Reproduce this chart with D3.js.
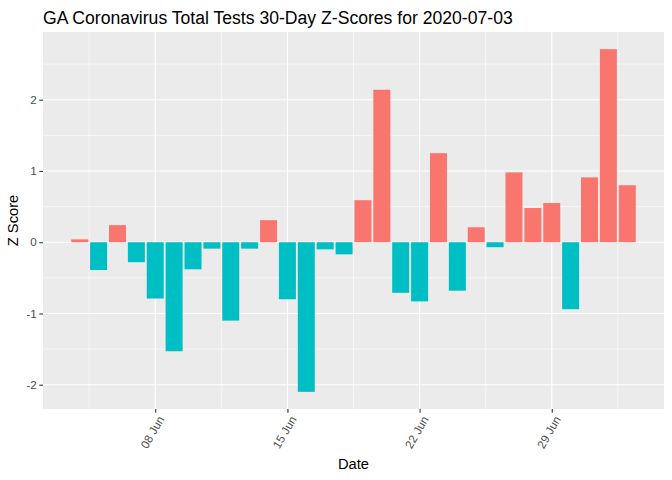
<!DOCTYPE html>
<html>
<head>
<meta charset="utf-8">
<script src="https://cdn.jsdelivr.net/npm/d3@7"></script>
<style>
  body { margin: 0; background: #fff; }
  text { font-family: "Liberation Sans", Arial, sans-serif; }
</style>
</head>
<body>
<svg id="chart" width="672" height="480"></svg>
<script>
const dates = ['2020-06-04', '2020-06-05', '2020-06-06', '2020-06-07', '2020-06-08', '2020-06-09',
    '2020-06-10', '2020-06-11', '2020-06-12', '2020-06-13', '2020-06-14', '2020-06-15',
    '2020-06-16', '2020-06-17', '2020-06-18', '2020-06-19', '2020-06-20', '2020-06-21',
    '2020-06-22', '2020-06-23', '2020-06-24', '2020-06-25', '2020-06-26', '2020-06-27',
    '2020-06-28', '2020-06-29', '2020-06-30', '2020-07-01', '2020-07-02', '2020-07-03'];
const zscores = [0.04, -0.39, 0.24, -0.28, -0.79, -1.53,
    -0.38, -0.09, -1.10, -0.09, 0.31, -0.80,
    -2.10, -0.10, -0.17, 0.59, 2.14, -0.71,
    -0.83, 1.25, -0.68, 0.21, -0.07, 0.98,
    0.48, 0.55, -0.94, 0.91, 2.71, 0.80];
const xTicks = ['2020-06-08', '2020-06-15', '2020-06-22', '2020-06-29'];
const yTicks = [-2, -1, 0, 1, 2];
const yMinor = [-1.5, -0.5, 0.5, 1.5, 2.5];

const margin = {left: 43, right: 8, top: 32, bottom: 71};
const width = 672, height = 480;
const day = 24 * 3600 * 1000;
const parse = d3.utcParse('%Y-%m-%d');

const data = dates.map((d, i) => ({date: parse(d), z: zscores[i]}));

// ggplot style limits: bar extent + 5% expansion
const lo = +data[0].date - 0.45 * day, hi = +data[data.length - 1].date + 0.45 * day;
const xr = hi - lo;
const x = d3.scaleUtc()
    .domain([new Date(lo - 0.05 * xr), new Date(hi + 0.05 * xr)])
    .range([margin.left, width - margin.right]);

const zmin = d3.min(zscores), zmax = d3.max(zscores), yr = zmax - zmin;
const y = d3.scaleLinear()
    .domain([zmin - 0.05 * yr, zmax + 0.05 * yr])
    .range([height - margin.bottom, margin.top]);

const svg = d3.select('#chart');

svg.append('rect')
    .attr('x', margin.left).attr('y', margin.top)
    .attr('width', width - margin.left - margin.right)
    .attr('height', height - margin.top - margin.bottom)
    .attr('fill', '#EBEBEB');

const grid = svg.append('g');
const xMinor = xTicks.map(t => new Date(+parse(t) - 3.5 * day)).concat([new Date(+parse(xTicks[3]) + 3.5 * day)]);

grid.selectAll('.ymin').data(yMinor).join('line')
    .attr('x1', margin.left).attr('x2', width - margin.right)
    .attr('y1', d => y(d)).attr('y2', d => y(d))
    .attr('stroke', 'white').attr('stroke-width', 0.55);
grid.selectAll('.xmin').data(xMinor).join('line')
    .attr('y1', margin.top).attr('y2', height - margin.bottom)
    .attr('x1', d => x(d)).attr('x2', d => x(d))
    .attr('stroke', 'white').attr('stroke-width', 0.55);
grid.selectAll('.ymaj').data(yTicks).join('line')
    .attr('x1', margin.left).attr('x2', width - margin.right)
    .attr('y1', d => y(d)).attr('y2', d => y(d))
    .attr('stroke', 'white').attr('stroke-width', 1.1);
grid.selectAll('.xmaj').data(xTicks.map(parse)).join('line')
    .attr('y1', margin.top).attr('y2', height - margin.bottom)
    .attr('x1', d => x(d)).attr('x2', d => x(d))
    .attr('stroke', 'white').attr('stroke-width', 1.1);

svg.append('g').selectAll('rect').data(data).join('rect')
    .attr('x', d => x(new Date(+d.date - 0.45 * day)))
    .attr('width', d => x(new Date(+d.date + 0.45 * day)) - x(new Date(+d.date - 0.45 * day)))
    .attr('y', d => y(Math.max(0, d.z)))
    .attr('height', d => Math.abs(y(d.z) - y(0)))
    .attr('fill', d => d.z > 0 ? '#F8766D' : '#00BFC4');

// axes
const xAxis = svg.append('g')
    .attr('transform', `translate(0, ${height - margin.bottom})`)
    .call(d3.axisBottom(x).tickValues(xTicks.map(parse)).tickFormat(d3.utcFormat('%d %b')).tickSize(3.7).tickPadding(3));
xAxis.select('.domain').remove();
xAxis.selectAll('line').attr('stroke', '#333333').attr('stroke-width', 1.1);
xAxis.selectAll('text')
    .attr('fill', '#4D4D4D').style('font-size', '11.7px')
    .attr('text-anchor', 'end')
    .attr('dy', null).attr('y', null)
    .attr('transform', 'translate(9, 10) rotate(-60)');

const yAxis = svg.append('g')
    .attr('transform', `translate(${margin.left}, 0)`)
    .call(d3.axisLeft(y).tickValues(yTicks).tickFormat(d => d < 0 ? '-' + Math.abs(d) : d).tickSize(3.7).tickPadding(2.5));
yAxis.select('.domain').remove();
yAxis.selectAll('line').attr('stroke', '#333333').attr('stroke-width', 1.1);
yAxis.selectAll('text').attr('fill', '#4D4D4D').style('font-size', '11.7px');

svg.append('text')
    .attr('x', margin.left).attr('y', 24)
    .style('font-size', '17.6px').attr('fill', 'black')
    .text('GA Coronavirus Total Tests 30-Day Z-Scores for 2020-07-03');

svg.append('text')
    .attr('x', (margin.left + width - margin.right) / 2).attr('y', 469)
    .attr('text-anchor', 'middle').style('font-size', '14.7px')
    .text('Date');

svg.append('text')
    .attr('transform', `translate(18, ${(margin.top + height - margin.bottom) / 2}) rotate(-90)`)
    .attr('text-anchor', 'middle').style('font-size', '14.7px')
    .text('Z Score');
</script>
</body>
</html>
